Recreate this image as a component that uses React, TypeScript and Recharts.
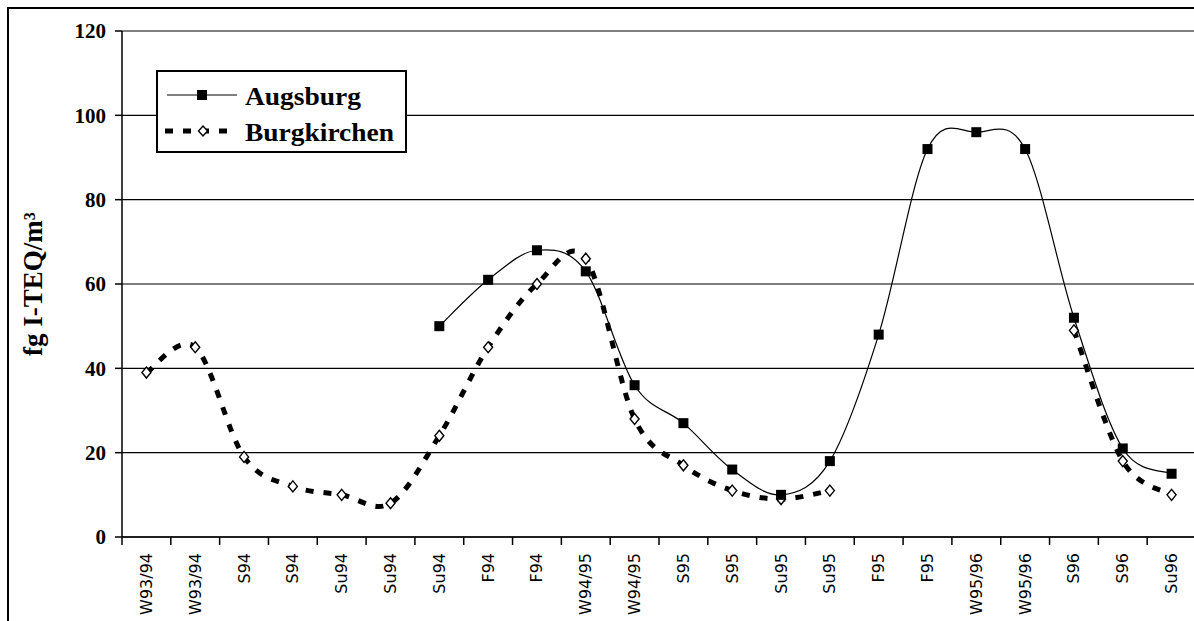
import React from "react";
import { LineChart, Line, XAxis, YAxis, CartesianGrid } from "recharts";

// sampling periods along the x axis
const categories = [
  "W93/94", "W93/94", "S94", "S94", "Su94", "Su94", "Su94", "F94", "F94",
  "W94/95", "W94/95", "S95", "S95", "Su95", "Su95", "F95", "F95",
  "W95/96", "W95/96", "S96", "S96", "Su96",
];

// fg I-TEQ/m³
const augsburg = [
  null, null, null, null, null, null, 50, 61, 68, 63, 36, 27, 16, 10, 18,
  48, 92, 96, 92, 52, 21, 15,
];
const burgkirchen = [
  39, 45, 19, 12, 10, 8, 24, 45, 60, 66, 28, 17, 11, 9, 11,
  null, null, null, null, 49, 18, 10,
];

const yTicks = [0, 20, 40, 60, 80, 100, 120];

const data = categories.map((label, i) => ({
  x: i + 0.5,
  label,
  augsburg: augsburg[i],
  burgkirchen: burgkirchen[i],
}));

// tick marks at category borders, labels in the middle
const xTicks = categories.flatMap((_, i) => [i, i + 0.5]).concat(categories.length);

const serif = "'Liberation Serif', 'Times New Roman', serif";

// Excel style smoothed line (catmull-rom as cubic bezier)
function smooth(context: any) {
  let pts: number[][] = [];
  return {
    areaStart() {},
    areaEnd() {},
    lineStart() {
      pts = [];
    },
    point(x: number, y: number) {
      pts.push([+x, +y]);
    },
    lineEnd() {
      const n = pts.length;
      if (!n) return;
      context.moveTo(pts[0][0], pts[0][1]);
      if (n === 1) {
        context.lineTo(pts[0][0], pts[0][1]);
        return;
      }
      for (let i = 0; i < n - 1; i++) {
        const p0 = pts[i - 1] || pts[i];
        const p1 = pts[i];
        const p2 = pts[i + 1];
        const p3 = pts[i + 2] || p2;
        context.bezierCurveTo(
          p1[0] + (p2[0] - p0[0]) / 6,
          p1[1] + (p2[1] - p0[1]) / 6,
          p2[0] - (p3[0] - p1[0]) / 6,
          p2[1] - (p3[1] - p1[1]) / 6,
          p2[0],
          p2[1]
        );
      }
    },
  };
}

const SquareDot = (props: any) => {
  const { cx, cy, value } = props;
  if (value == null || cy == null) return <g />;
  return <rect x={cx - 5} y={cy - 5} width={10} height={10} fill="#000" />;
};

const DiamondDot = (props: any) => {
  const { cx, cy, value } = props;
  if (value == null || cy == null) return <g />;
  return (
    <path
      d={`M${cx},${cy - 5.5} L${cx + 4.5},${cy} L${cx},${cy + 5.5} L${cx - 4.5},${cy} Z`}
      fill="#fff"
      stroke="#000"
      strokeWidth={1.4}
    />
  );
};

const XTick = (props: any) => {
  const { x, y, payload } = props;
  const v = payload.value;
  if (Number.isInteger(v)) {
    return <line x1={x} y1={y} x2={x} y2={y + 8} stroke="#000" strokeWidth={1.5} />;
  }
  const label = categories[Math.floor(v)];
  const ty = y + 16;
  return (
    <text
      x={x}
      y={ty}
      transform={`rotate(-90 ${x} ${ty})`}
      textAnchor="end"
      dominantBaseline="central"
      fontFamily="'DejaVu Sans', sans-serif"
      fontSize={16}
      fill="#000"
      stroke="none"
    >
      {label}
    </text>
  );
};

function LegendBox() {
  return (
    <div
      style={{
        position: "absolute",
        left: 156,
        top: 70,
        width: 247,
        height: 79,
        border: "2px solid #000",
        background: "#fff",
      }}
    >
      <svg width={247} height={79}>
        <line x1={9} y1={23} x2={79} y2={23} stroke="#000" strokeWidth={1.2} />
        <rect x={39} y={18} width={10} height={10} fill="#000" />
        <text
          x={87}
          y={24}
          dominantBaseline="central"
          fontFamily={serif}
          fontWeight="bold"
          fontSize={25}
          textLength={116}
          lengthAdjust="spacingAndGlyphs"
        >
          Augsburg
        </text>
        <line x1={7} y1={59} x2={79} y2={59} stroke="#000" strokeWidth={5} strokeDasharray="8 10" />
        <path d="M45,54 L49.5,59 L45,64 L40.5,59 Z" fill="#fff" stroke="#000" strokeWidth={1.4} />
        <text
          x={87}
          y={60}
          dominantBaseline="central"
          fontFamily={serif}
          fontWeight="bold"
          fontSize={25}
          textLength={149}
          lengthAdjust="spacingAndGlyphs"
        >
          Burgkirchen
        </text>
      </svg>
    </div>
  );
}

export default function App() {
  return (
    <div style={{ position: "relative", width: 1194, height: 621, overflow: "hidden", background: "#fff" }}>
      <style>{"body{margin:0;overflow:hidden}"}</style>
      <div
        style={{
          position: "absolute",
          left: 7,
          top: 7,
          width: 1300,
          height: 700,
          border: "2px solid #000",
        }}
      />
      <div style={{ position: "absolute", left: 0, top: 0 }}>
        <LineChart width={1196} height={621} data={data} margin={{ top: 31, right: 0, bottom: 0, left: 0 }}>
          <CartesianGrid vertical={false} stroke="#000" strokeWidth={1.2} />
          <XAxis
            dataKey="x"
            type="number"
            domain={[0, categories.length]}
            ticks={xTicks}
            interval={0}
            tick={<XTick />}
            tickLine={false}
            tickSize={0}
            tickMargin={0}
            height={84}
            axisLine={{ stroke: "#000", strokeWidth: 1.5 }}
          />
          <YAxis
            domain={[0, 120]}
            ticks={yTicks}
            interval={0}
            width={122}
            tickSize={7}
            tickMargin={9}
            axisLine={{ stroke: "#000", strokeWidth: 1.5 }}
            tickLine={{ stroke: "#000", strokeWidth: 1.5 }}
            tick={{ fill: "#000", fontSize: 21, fontWeight: "bold", fontFamily: serif }}
            label={{
              value: "fg I-TEQ/m³",
              angle: -90,
              position: "insideLeft",
              offset: 32,
              style: { fill: "#000", fontSize: 27, fontWeight: "bold", fontFamily: serif, textAnchor: "middle" },
            }}
          />
          <Line
            dataKey="burgkirchen"
            type={smooth as any}
            stroke="#000"
            strokeWidth={5}
            strokeDasharray="8 10"
            dot={<DiamondDot />}
            activeDot={false}
            connectNulls={false}
            isAnimationActive={false}
          />
          <Line
            dataKey="augsburg"
            type={smooth as any}
            stroke="#000"
            strokeWidth={1.2}
            dot={<SquareDot />}
            activeDot={false}
            connectNulls={false}
            isAnimationActive={false}
          />
        </LineChart>
      </div>
      <LegendBox />
    </div>
  );
}
